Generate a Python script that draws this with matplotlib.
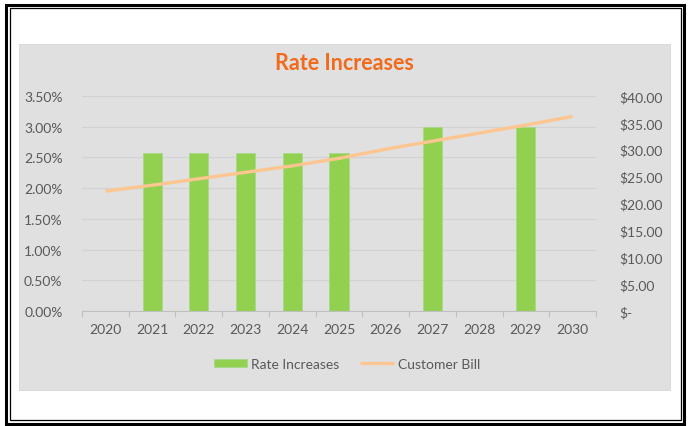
import matplotlib
matplotlib.use('Agg')
import matplotlib.pyplot as plt
from matplotlib.patches import Rectangle
from matplotlib.ticker import FuncFormatter, FixedLocator

plt.rcParams['font.family'] = ['Lato', 'DejaVu Sans']

YEARS = ['2020', '2021', '2022', '2023', '2024', '2025', '2026', '2027', '2028', '2029', '2030']
RATE_INCREASES = [0, 2.57, 2.57, 2.57, 2.57, 2.57, 0, 3.0, 0, 3.0, 0]   # percent
CUSTOMER_BILL = [22.3, 23.4, 24.6, 25.8, 27.0, 28.4, 30.1, 31.6, 33.1, 34.6, 36.2]

BG = '#E0E0E0'
GRID = '#D2D2D2'
TEXT = '#595959'
GREEN = '#92D050'
ORANGE = '#FDC58F'
W, H = 688, 427

fig = plt.figure(figsize=(W / 100, H / 100), dpi=100)
fig.patch.set_facecolor('white')

# double frame around the whole thing (pixel coords, y from top)
def frame(x0, y0, x1, y1, lw):
    fig.add_artist(Rectangle((x0 / W, 1 - y1 / H), (x1 - x0) / W, (y1 - y0) / H,
                             transform=fig.transFigure, fill=False, lw=lw, ec='black'))

frame(6, 5.5, 684, 424.5, 2.2)
frame(9.5, 9, 680.5, 421, 0.9)
# grey chart area
fig.add_artist(Rectangle((19 / W, 1 - 391 / H), 651 / W, 346 / H, transform=fig.transFigure,
                         fc=BG, ec='#D6D6D6', lw=0.6, zorder=0))

ax = fig.add_axes([82 / W, 1 - 312 / H, (596 - 82) / W, (312 - 97) / H])
ax.set_facecolor('none')
x = list(range(len(YEARS)))

ax.bar(x, RATE_INCREASES, width=0.41, color=GREEN, edgecolor='#A8D98A', linewidth=0.6,
       label='Rate Increases', zorder=2)
ax.set_xlim(-0.5, len(YEARS) - 0.5)
ax.set_ylim(0, 3.5)
ax.set_yticks([i * 0.5 for i in range(8)])
ax.yaxis.set_major_formatter(FuncFormatter(lambda v, p: f'{v:.2f}%'))
ax.grid(axis='y', color=GRID, lw=0.9, zorder=0)
ax.set_axisbelow(True)

ax.set_xticks(x)
ax.set_xticklabels(YEARS)
ax.xaxis.set_minor_locator(FixedLocator([i - 0.5 for i in range(len(YEARS) + 1)]))
ax.tick_params(axis='x', which='major', length=0, pad=9, labelsize=10, labelcolor=TEXT)
ax.tick_params(axis='x', which='minor', length=4, color='#BFBFBF', width=0.8)
ax.tick_params(axis='y', length=0, pad=14, labelsize=10, labelcolor=TEXT)
for s in ['top', 'right', 'left']:
    ax.spines[s].set_visible(False)
ax.spines['bottom'].set_color('#BFBFBF')
ax.spines['bottom'].set_linewidth(0.8)

ax2 = ax.twinx()
ax2.plot(x, CUSTOMER_BILL, color=ORANGE, lw=2.4, solid_capstyle='butt', label='Customer Bill', zorder=3)
ax2.set_ylim(0, 40)
ax2.set_yticks(range(0, 45, 5))
ax2.yaxis.set_major_formatter(FuncFormatter(lambda v, p: '$-' if v == 0 else f'${v:.2f}'))
ax2.tick_params(axis='y', length=0, pad=17, labelsize=10, labelcolor=TEXT)
for s in ax2.spines.values():
    s.set_visible(False)

fig.text(344 / W, 1 - 64 / H, 'Rate Increases', ha='center', va='center', fontsize=15.5,
         fontweight='bold', color='#F26A1B')

h1, l1 = ax.get_legend_handles_labels()
h2, l2 = ax2.get_legend_handles_labels()
leg = fig.legend(h1 + h2, l1 + l2, loc='center', bbox_to_anchor=(347 / W, 1 - 365 / H), ncol=2,
                 frameon=False, fontsize=10, handlelength=2.4, handleheight=0.55, handletextpad=0.3,
                 columnspacing=1.5)
for t in leg.get_texts():
    t.set_color(TEXT)

fig.savefig('out.png', dpi=100, facecolor='white')
